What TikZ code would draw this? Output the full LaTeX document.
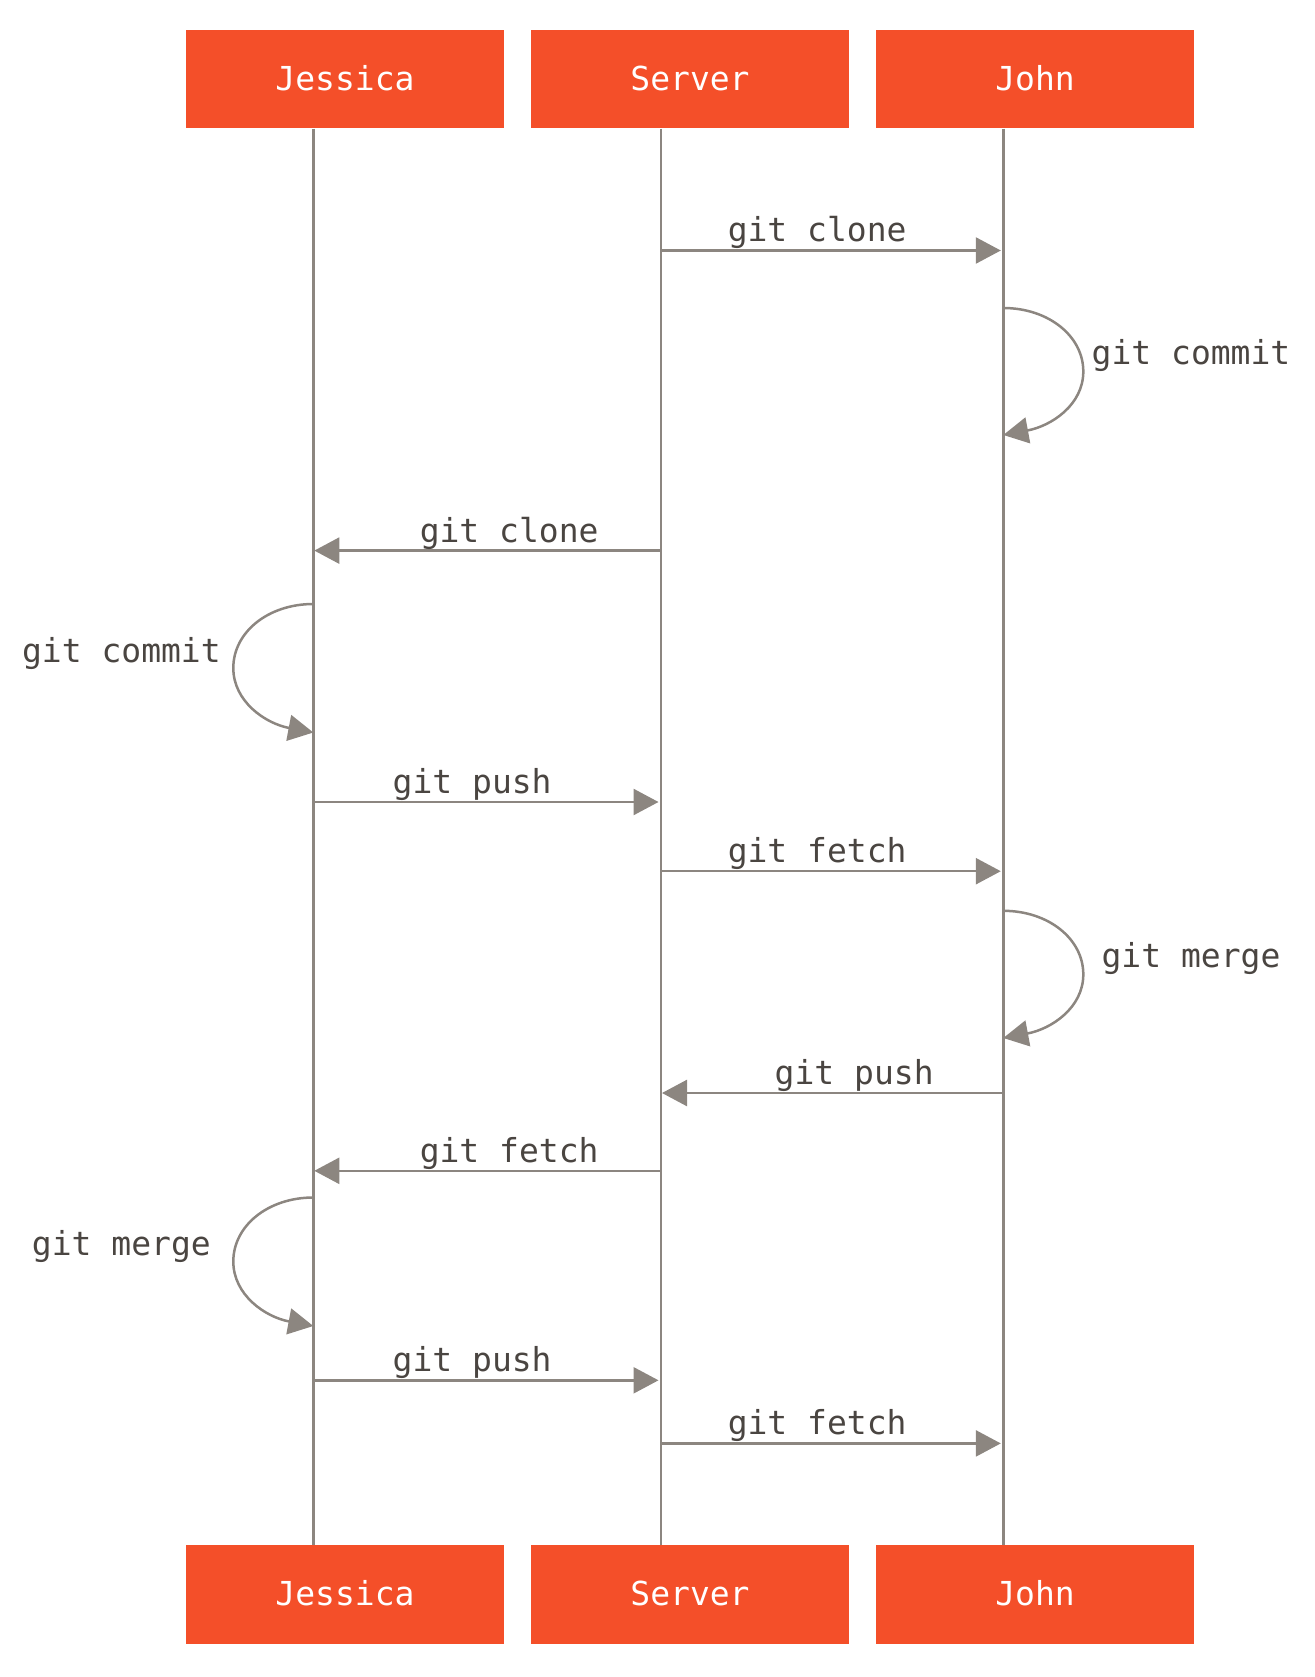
\documentclass[tikz,border=0pt]{standalone}
\usepackage{fontspec}
\setmonofont{DejaVu Sans Mono}
\usetikzlibrary{arrows.meta,calc}
\definecolor{boxorange}{RGB}{244,79,41}
\definecolor{linegrey}{RGB}{140,134,128}
\definecolor{textdark}{RGB}{74,69,65}
\tikzset{
  actor/.style={fill=boxorange, draw=none, minimum width=318pt, minimum height=98.5pt,
    inner sep=0pt, text=white, font=\ttfamily\fontsize{33}{40}\selectfont,
    text height=22pt, text depth=0pt},
  life/.style={draw=linegrey, line width=2.5pt},
  msg/.style={draw=linegrey, line width=2.5pt, -{Triangle[length=25pt,width=26pt]}},
  rmsg/.style={msg, shorten >=2.5pt},
  lmsg/.style={msg, shorten >=1pt},
  selfloop/.style={msg},
  lbl/.style={text=textdark, font=\ttfamily\fontsize{33}{40}\selectfont, inner sep=0pt, anchor=base},
}
\begin{document}
\begin{tikzpicture}[x=1pt,y=-1pt]
\useasboundingbox (0,0) rectangle (1314,1677);
% actor boxes
\node[actor] (jesT) at (345,79.25) {Jessica};
\node[actor] (srvT) at (690,79.25) {Server};
\node[actor] (johT) at (1035,79.25) {John};
\node[actor] (jesB) at (345,1594.25) {Jessica};
\node[actor] (srvB) at (690,1594.25) {Server};
\node[actor] (johB) at (1035,1594.25) {John};
% lifeline x positions
\coordinate (Jx) at (313.3,0);
\coordinate (Sx) at (661,0);
\coordinate (Hx) at (1003.3,0);
\draw[life] (jesT.south -| Jx) -- (jesB.north -| Jx);
\draw[life] (srvT.south -| Sx) -- (srvB.north -| Sx);
\draw[life] (johT.south -| Hx) -- (johB.north -| Hx);

% 1 git clone Server -> John
\coordinate (s1) at (661,250.5);
\coordinate (h1) at (1003.3,250.5);
\draw[rmsg] (s1) -- (h1) node[lbl, midway, xshift=-15pt, yshift=8.6pt] {git clone};

% John git commit loop
\coordinate (hl1a) at (1003.3,308);
\coordinate (hl1b) at (1003.3,435);
\draw[selfloop] (hl1a) .. controls ($(hl1a)+(45,0)$) and ($(hl1a)+(80,28)$) .. ($(hl1a)+(80,63.5)$)
  .. controls ($(hl1a)+(80,97)$) and ($(hl1b)+(48,-9)$) .. (hl1b);
\node[lbl] (lc1) at (1191,364) {git commit};

% 2 git clone Server -> Jessica
\coordinate (s2) at (661,550.6);
\coordinate (j2) at (313.3,550.6);
\draw[lmsg] (s2) -- (j2) node[lbl, midway, xshift=22pt, yshift=8.6pt] {git clone};

% Jessica git commit loop
\coordinate (jl1a) at (313.3,604);
\coordinate (jl1b) at (313.3,732.5);
\draw[selfloop] (jl1a) .. controls ($(jl1a)+(-45,0)$) and ($(jl1a)+(-80,28)$) .. ($(jl1a)+(-80,64)$)
  .. controls ($(jl1a)+(-80,97.5)$) and ($(jl1b)+(-48,-9)$) .. (jl1b);
\node[lbl] (lc2) at (121.4,662) {git commit};

% 3 git push Jessica -> Server
\coordinate (j3) at (313.3,802);
\coordinate (s3) at (661,802);
\draw[rmsg] (j3) -- (s3) node[lbl, midway, xshift=-15pt, yshift=8.6pt] {git push};

% 4 git fetch Server -> John
\coordinate (s4) at (661,871.2);
\coordinate (h4) at (1003.3,871.2);
\draw[rmsg] (s4) -- (h4) node[lbl, midway, xshift=-15pt, yshift=8.6pt] {git fetch};

% John git merge loop
\coordinate (hl2a) at (1003.3,910.8);
\coordinate (hl2b) at (1003.3,1038);
\draw[selfloop] (hl2a) .. controls ($(hl2a)+(45,0)$) and ($(hl2a)+(80,28)$) .. ($(hl2a)+(80,63.6)$)
  .. controls ($(hl2a)+(80,97)$) and ($(hl2b)+(48,-9)$) .. (hl2b);
\node[lbl] (lc3) at (1191,967) {git merge};

% 5 git push John -> Server
\coordinate (h5) at (1003.3,1093);
\coordinate (s5) at (661,1093);
\draw[lmsg] (h5) -- (s5) node[lbl, midway, xshift=22pt, yshift=8.6pt] {git push};

% 6 git fetch Server -> Jessica
\coordinate (s6) at (661,1170.8);
\coordinate (j6) at (313.3,1170.8);
\draw[lmsg] (s6) -- (j6) node[lbl, midway, xshift=22pt, yshift=8.6pt] {git fetch};

% Jessica git merge loop
\coordinate (jl2a) at (313.3,1197.5);
\coordinate (jl2b) at (313.3,1326);
\draw[selfloop] (jl2a) .. controls ($(jl2a)+(-45,0)$) and ($(jl2a)+(-80,28)$) .. ($(jl2a)+(-80,64)$)
  .. controls ($(jl2a)+(-80,97.5)$) and ($(jl2b)+(-48,-9)$) .. (jl2b);
\node[lbl] (lc4) at (121.4,1255.5) {git merge};

% 7 git push Jessica -> Server
\coordinate (j7) at (313.3,1380.3);
\coordinate (s7) at (661,1380.3);
\draw[rmsg] (j7) -- (s7) node[lbl, midway, xshift=-15pt, yshift=8.6pt] {git push};

% 8 git fetch Server -> John
\coordinate (s8) at (661,1443.4);
\coordinate (h8) at (1003.3,1443.4);
\draw[rmsg] (s8) -- (h8) node[lbl, midway, xshift=-15pt, yshift=8.6pt] {git fetch};
\end{tikzpicture}
\end{document}
